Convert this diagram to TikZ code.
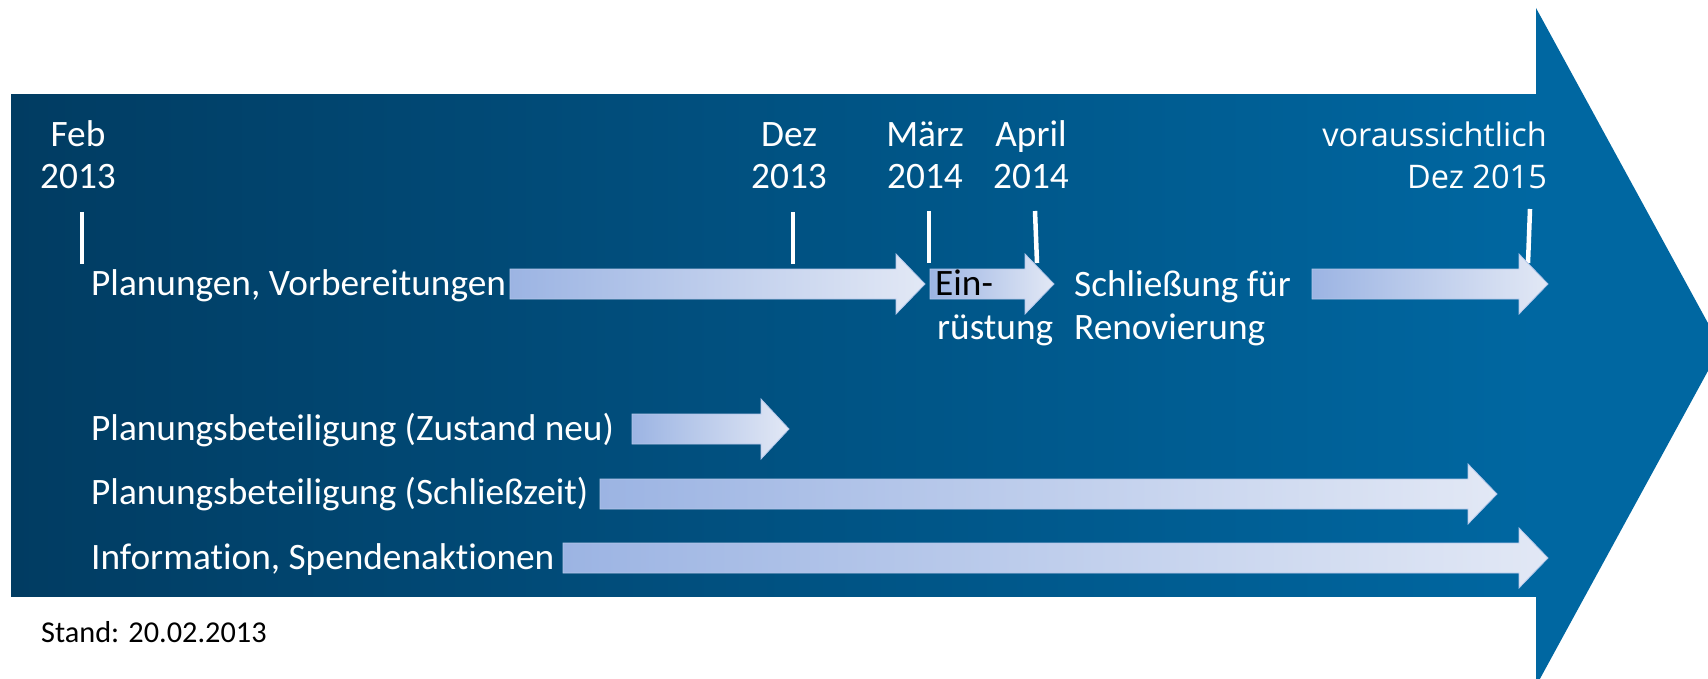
\documentclass[tikz,border=0pt]{standalone}
\usepackage{fontspec}
\setmainfont{Carlito}[Ligatures=NoCommon]
\newfontfamily\vfont{Open Sans}
\definecolor{bandL}{HTML}{013C62}
\definecolor{bandR}{HTML}{0067A1}
\definecolor{arrL}{HTML}{9CB4E3}
\definecolor{arrR}{HTML}{E2E8F5}
\definecolor{arrEdge}{HTML}{B4C7EA}
\tikzset{
  lbl/.style={text=white, font=\fontsize{37.3}{44}\selectfont, inner sep=0pt, anchor=base west},
  datelbl/.style={text=white, font=\fontsize{37.3}{42}\selectfont, inner sep=0pt, align=center, anchor=base},
  vlbl/.style={text=white, font=\vfont\fontsize{32.5}{42}\selectfont, inner sep=0pt, align=right, anchor=base east},
  tickline/.style={draw=white, line width=4.5pt},
  lightarrow/.style={left color=arrL, right color=arrR, draw=arrEdge, line width=0.8pt},
}
\newcommand{\garrow}[4]{%
  \shade[lightarrow] (#1,#4-15) -- (#2,#4-15) -- (#2,#4-30) -- (#3,#4)
    -- (#2,#4+30) -- (#2,#4+15) -- (#1,#4+15) -- cycle;}
\begin{document}
\begin{tikzpicture}[x=1pt,y=-1pt]
\useasboundingbox (0,0) rectangle (1708,679);
\clip (0,0) rectangle (1708,679);
% big band arrow
\shade[left color=bandL, right color=bandR] (11,95) rectangle (1537,596);
\fill[bandR] (1536,8) -- (1721,347) -- (1536,686) -- cycle;

% ticks
\coordinate (tFa) at (82,212);  \coordinate (tFb) at (82,264);
\coordinate (tDa) at (793,212); \coordinate (tDb) at (793,264);
\coordinate (tMa) at (929,211); \coordinate (tMb) at (929,263);
\coordinate (tAa) at (1035,211); \coordinate (tAb) at (1037,263);
\coordinate (tEa) at (1530,209); \coordinate (tEb) at (1528,263);
\draw[tickline] (tFa) -- (tFb);
\draw[tickline] (tDa) -- (tDb);
\draw[tickline] (tMa) -- (tMb);
\draw[tickline] (tAa) -- (tAb);
\draw[tickline] (tEa) -- (tEb);

% date labels (base = baseline of last line)
\node[datelbl] (feb) at (78,189) {Feb\\2013};
\node[datelbl] (dez) at (789,189) {Dez\\2013};
\node[datelbl] (maerz) at (925,189) {März\\2014};
\node[datelbl] (april) at (1031,189) {April\\2014};
\node[vlbl] (vor) at (1547,189) {voraussichtlich\\Dez 2015};

% light arrows
\garrow{510}{896}{925}{284}
\garrow{930}{1025}{1054}{284}
\garrow{1312}{1519}{1548}{284}
\garrow{632}{761}{789}{429}
\garrow{600}{1468}{1497}{494}
\garrow{563}{1519}{1548}{558}

% row labels
\node[lbl] (plan) at (91,295) {Planungen, Vorbereitungen};
\node[lbl, text=black] (ein) at (935,295) {Ein-};
\node[lbl] (ruest) at (937,339) {rüstung};
\node[lbl] (schl) at (1074,296) {Schließung für};
\node[lbl] (reno) at (1074,339) {Renovierung};
\node[lbl] (zust) at (91,440) {Planungsbeteiligung (Zustand neu)};
\node[lbl] (szeit) at (91,504) {Planungsbeteiligung (Schließzeit)};
\node[lbl] (info) at (91,569) {Information, Spendenaktionen};
\node[lbl, text=black, font=\fontsize{30.3}{37}\selectfont] (stand) at (41,642) {Stand: 20.02.2013};
\end{tikzpicture}
\end{document}
